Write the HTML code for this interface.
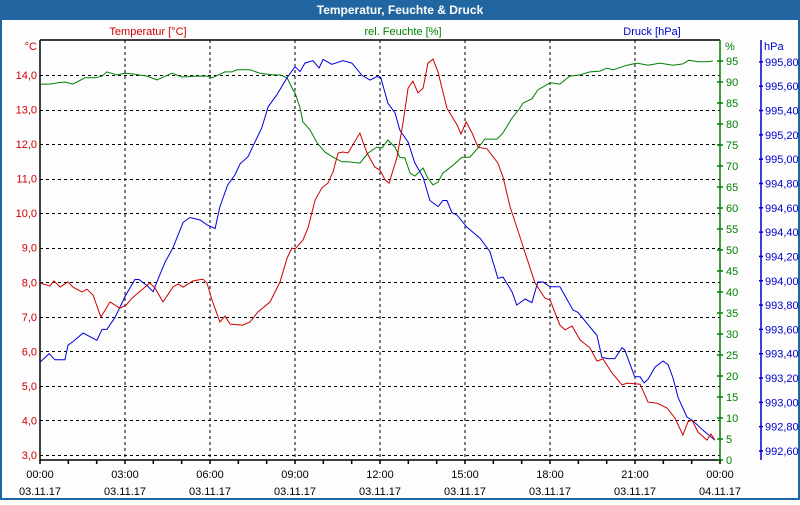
<!DOCTYPE html>
<html><head><meta charset="utf-8">
<style>
html,body{margin:0;padding:0;}
body{width:800px;height:500px;overflow:hidden;background:#fff;font-family:"Liberation Sans",sans-serif;}
svg text{font-family:"Liberation Sans",sans-serif;font-size:11px;}
</style></head>
<body>
<svg id="chart" width="800" height="500" viewBox="0 0 800 500">
  <rect x="0" y="0" width="800" height="500" fill="#2166a0"/>
  <rect x="2" y="20" width="796" height="478" fill="#fdfdfd"/>
  <text x="400" y="14" text-anchor="middle" fill="#fff" font-weight="bold" style="font-size:12px">Temperatur, Feuchte &amp; Druck</text>
  <text x="148" y="35" text-anchor="middle" fill="#cc0000">Temperatur [°C]</text>
  <text x="403" y="35" text-anchor="middle" fill="#008000">rel. Feuchte [%]</text>
  <text x="652" y="35" text-anchor="middle" fill="#0000cc">Druck [hPa]</text>
  <g id="grid"></g>
  <g id="axes"></g>
  <g id="series"></g>
</svg>
<script>
// ---- data ----
const tempHours = [0,.35,.49,.71,.99,1.16,1.48,1.66,1.87,2.15,2.47,2.82,3.04,3.25,3.88,4.06,4.34,4.69,4.87,5.05,5.40,5.75,5.89,6.07,6.35,6.53,6.71,7.16,7.41,7.69,8.12,8.47,8.72,8.89,9.00,9.28,9.46,9.71,9.95,10.16,10.34,10.52,10.69,10.87,11.29,11.40,11.54,11.82,12.00,12.18,12.32,12.60,12.81,12.99,13.16,13.34,13.52,13.69,13.87,14.05,14.36,14.72,14.86,15.04,15.25,15.46,15.78,16.16,16.34,16.59,16.94,17.12,17.47,17.82,18.00,18.35,18.53,18.78,19.06,19.41,19.66,19.87,20.19,20.54,20.72,21.18,21.46,21.78,22.13,22.41,22.69,22.87,23.01,23.22,23.54,23.68,23.82];
const tempValues = [7.98,7.89,8.04,7.86,8.01,7.86,7.72,7.80,7.63,6.99,7.43,7.25,7.34,7.54,7.98,7.83,7.43,7.86,7.95,7.86,8.04,8.09,7.98,7.49,6.85,7.02,6.79,6.76,6.85,7.14,7.43,8.01,8.70,8.99,8.96,9.22,9.57,10.38,10.73,10.87,11.19,11.74,11.77,11.74,12.32,12.06,11.74,11.33,11.25,10.96,10.87,11.62,12.61,13.62,13.82,13.48,13.62,14.34,14.46,14.08,13.04,12.55,12.29,12.64,12.32,11.91,11.86,11.45,11.05,10.18,9.31,8.85,7.98,7.54,7.49,6.76,6.62,6.73,6.33,6.10,5.72,5.78,5.37,5.03,5.08,5.05,4.53,4.50,4.36,4.07,3.58,3.96,4.01,3.67,3.43,3.61,3.43];
const humHours = [0,.35,.64,.88,1.16,1.59,1.94,2.19,2.36,2.72,3.00,3.28,3.78,4.13,4.66,5.01,5.54,5.89,6.07,6.53,6.78,6.95,7.41,7.76,8.22,8.47,8.72,8.93,9.00,9.18,9.28,9.53,9.78,10.06,10.34,10.66,10.87,11.29,11.58,11.89,12.07,12.28,12.53,12.70,12.88,13.06,13.23,13.52,13.69,13.87,14.05,14.22,14.58,14.89,15.17,15.46,15.70,16.13,16.34,16.66,16.94,17.05,17.36,17.57,18.00,18.35,18.70,19.06,19.41,19.76,20.01,20.22,20.72,21.07,21.46,21.88,22.34,22.69,22.90,23.22,23.57,23.75];
const humValues = [89.5,89.5,89.8,90.0,89.5,91.0,91.0,91.4,92.4,91.7,92.1,91.9,91.4,90.5,92.1,91.2,91.4,91.4,91.0,92.4,92.4,92.9,92.9,92.1,91.7,91.7,91.0,88.1,87.4,83.8,80.5,78.6,75.5,73.3,72.1,71.0,71.0,70.7,73.1,74.5,74.3,76.2,74.5,72.1,71.9,68.3,67.6,69.5,67.1,65.5,66.2,68.3,70.2,72.1,72.1,74.3,76.4,76.4,77.9,81.4,83.8,85.0,86.0,88.1,89.8,89.5,91.4,91.7,92.4,92.6,93.3,92.9,94.0,94.5,94.0,94.5,94.0,94.3,95.2,94.8,94.8,95.0];
const presHours = [0,.32,.53,.88,.99,1.16,1.52,2.01,2.19,2.36,2.65,3.00,3.35,3.49,3.78,3.99,4.16,4.41,4.69,5.05,5.29,5.65,5.89,6.18,6.35,6.63,6.88,7.06,7.34,7.83,8.05,8.36,8.72,9.00,9.18,9.35,9.63,9.85,9.99,10.30,10.69,11.01,11.36,11.65,11.89,12.03,12.28,12.53,12.70,12.99,13.23,13.52,13.76,14.05,14.22,14.36,14.54,14.72,15.07,15.53,15.88,16.16,16.34,16.66,16.83,17.12,17.36,17.57,17.75,18.00,18.35,18.81,18.99,19.66,19.83,20.04,20.29,20.54,20.64,20.99,21.18,21.32,21.46,21.71,21.99,22.17,22.34,22.52,22.83,23.04,23.40,23.82];
const presValues = [993.33,993.40,993.35,993.35,993.47,993.50,993.57,993.51,993.60,993.60,993.70,993.87,994.01,994.01,993.96,993.91,994.01,994.15,994.27,994.48,994.52,994.50,994.46,994.43,994.61,994.79,994.87,994.96,995.02,995.26,995.43,995.53,995.67,995.76,995.72,995.79,995.81,995.75,995.82,995.78,995.81,995.79,995.69,995.65,995.68,995.67,995.46,995.38,995.24,995.14,994.97,994.85,994.66,994.61,994.66,994.66,994.56,994.54,994.44,994.35,994.24,994.02,994.03,993.91,993.80,993.85,993.82,993.99,993.99,993.95,993.95,993.76,993.74,993.55,993.37,993.36,993.36,993.45,993.43,993.21,993.21,993.16,993.19,993.29,993.34,993.31,993.20,993.04,992.88,992.85,992.77,992.69];
const tempTicks = [3,4,5,6,7,8,9,10,11,12,13,14];
const humTicks = [0,5,10,15,20,25,30,35,40,45,50,55,60,65,70,75,80,85,90,95];
const presTicks = [992.6,992.8,993.0,993.2,993.4,993.6,993.8,994.0,994.2,994.4,994.6,994.8,995.0,995.2,995.4,995.6,995.8];
const timeTicks = [0,3,6,9,12,15,18,21,24];
const timeLabels = ["00:00","03:00","06:00","09:00","12:00","15:00","18:00","21:00","00:00"];
const dateLabels = ["03.11.17","03.11.17","03.11.17","03.11.17","03.11.17","03.11.17","03.11.17","03.11.17","04.11.17"];

// ---- axis functions ----
const L=40,R=720,T=40,B=460;
const xS = h => L + h*(R-L)/24;
const yT = t => 455 - (t-3)*34.55;
const yH = v => B - v*4.2;
const yP = p => 451 - (p-992.6)*121.6;
const NS="http://www.w3.org/2000/svg";
function mk(tag, parent){const e=document.createElementNS(NS,tag);document.getElementById(parent).appendChild(e);return e;}
const fmt = (v,d) => v.toFixed(d).replace('.',',');

// grid
timeTicks.slice(1,-1).forEach(h=>{
  const l=mk('line','grid');
  
  
  l.setAttribute('x1',xS(h));l.setAttribute('x2',xS(h));l.setAttribute('y1',T);l.setAttribute('y2',B);
  l.setAttribute('stroke','#000');l.setAttribute('stroke-dasharray','3,3');
});
tempTicks.forEach(t=>{
  const l=mk('line','grid');
  
  
  l.setAttribute('x1',L);l.setAttribute('x2',R);l.setAttribute('y1',Math.round(yT(t))+.5);l.setAttribute('y2',Math.round(yT(t))+.5);
  l.setAttribute('stroke','#000');l.setAttribute('stroke-dasharray','3,3');
});

// axes lines
function line(x1,y1,x2,y2,c,name){const l=mk('line','axes');
  
  
  l.setAttribute('x1',x1);l.setAttribute('y1',y1);l.setAttribute('x2',x2);l.setAttribute('y2',y2);l.setAttribute('stroke',c);l.setAttribute('stroke-width','1.5');return l;}
line(L,T,R,T,'#000','plot-top-border');
line(L,T,L,B,'#000','temperature-axis-line');
line(L,B,R,B,'#000','time-axis-line');
line(R,T,R,B,'#008000','humidity-axis-line');
line(761,T,761,B,'#0000cc','pressure-axis-line');
function txt(x,y,s,c,anchor,name){const e=mk('text','axes');
  
  
  e.setAttribute('x',x);e.setAttribute('y',y);e.setAttribute('fill',c);e.setAttribute('text-anchor',anchor);e.textContent=s;return e;}
txt(37,50,'°C','#cc0000','end','temperature-unit');
txt(725,50,'%','#008000','start','humidity-unit');
txt(764,50,'hPa','#0000cc','start','pressure-unit');
tempTicks.forEach(t=>txt(37,yT(t)+4,fmt(t,1),'#cc0000','end','temperature-tick-label'));
humTicks.forEach(v=>{txt(726,yH(v)+4,String(v),'#008000','start','humidity-tick-label');
  line(R-3,yH(v),R+3,yH(v),'#008000','humidity-tick');});
presTicks.forEach(p=>{txt(765,yP(p)+4,fmt(p,2),'#0000cc','start','pressure-tick-label');
  line(759,yP(p),763,yP(p),'#0000cc','pressure-tick');});
for(let h=0;h<=24;h++){line(xS(h),B,xS(h),B+4,'#000','time-tick');}
timeTicks.forEach((h,i)=>{txt(xS(h),478,timeLabels[i],'#000','middle','time-tick-label');
  txt(xS(h),495,dateLabels[i],'#000','middle','date-tick-label');});

// series
function series(hs,vs,yf,c,name){const p=mk('polyline','series');
  
  
  p.setAttribute('points',hs.map((h,i)=>xS(h).toFixed(1)+','+yf(vs[i]).toFixed(1)).join(' '));
  p.setAttribute('fill','none');p.setAttribute('stroke',c);p.setAttribute('stroke-width','1');}
series(humHours,humValues,yH,'#008000','humidity-line');
series(presHours,presValues,yP,'#0000dd','pressure-line');
series(tempHours,tempValues,yT,'#cc0000','temperature-line');
</script>
</body></html>
